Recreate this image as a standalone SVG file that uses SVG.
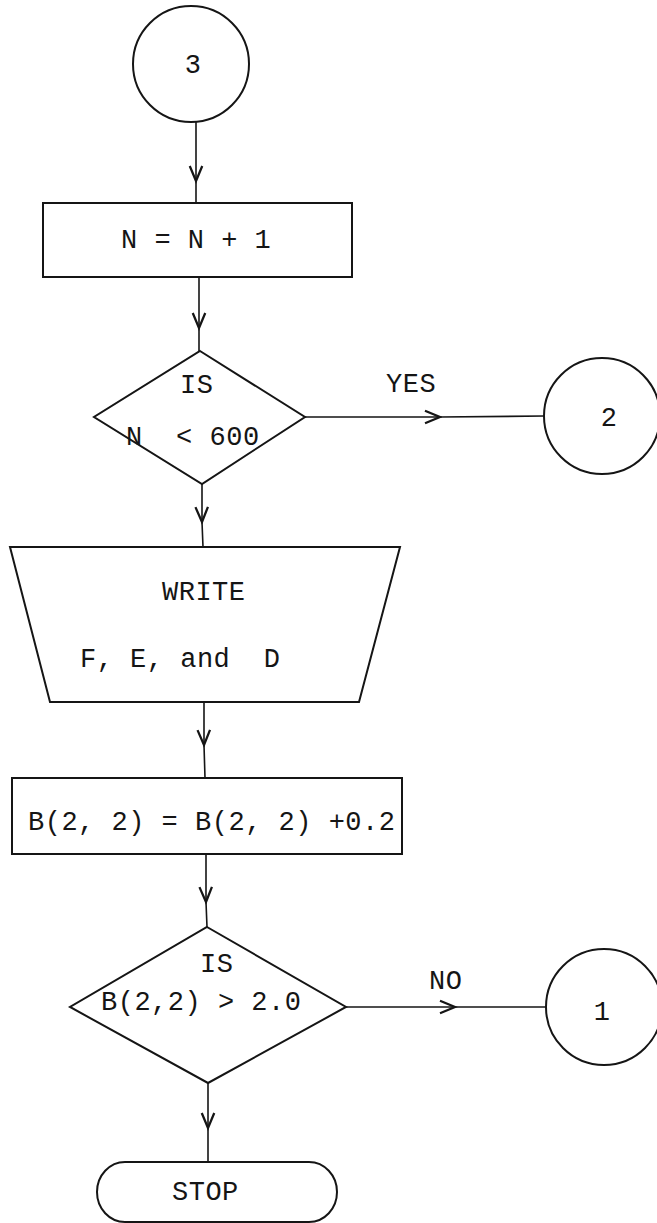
<svg xmlns="http://www.w3.org/2000/svg" width="657" height="1223" viewBox="0 0 657 1223">
<style>
.s{fill:none;stroke:#151515;stroke-width:2;stroke-linejoin:miter}
.c{fill:none;stroke:#151515;stroke-width:1.6;marker-mid:url(#ah)}
.t{font-family:"Liberation Mono","DejaVu Sans Mono",monospace;font-size:27px;letter-spacing:0.5px;fill:#151515;white-space:pre}
</style>
<defs>
<marker id="ah" markerUnits="userSpaceOnUse" markerWidth="20" markerHeight="20" refX="0" refY="0" viewBox="-14 -8 16 16" orient="auto">
<path d="M-12,-5 L0,0 L-12,5" fill="none" stroke="#151515" stroke-width="1.8"/>
</marker>
</defs>
<rect width="657" height="1223" fill="#fff"/>
<g id="connectors">
<polyline class="c" points="196,122 196,181 196,203"/>
<polyline class="c" points="199,277 199,328 199,351"/>
<polyline class="c" points="305,417 440,417 544,416"/>
<polyline class="c" points="202,484 202,522 203,547"/>
<polyline class="c" points="204,702 204,745 205,778"/>
<polyline class="c" points="206,854 206,902 207,927"/>
<polyline class="c" points="346,1007 455,1007 546,1007"/>
<polyline class="c" points="208,1083 208,1128 208,1162"/>
</g>
<g id="c3"><circle class="s" cx="191" cy="64" r="58"/><text class="t" x="193" y="73" text-anchor="middle">3</text></g>
<g id="inc"><rect class="s" x="43" y="203" width="309" height="74"/><text class="t" x="121" y="248">N = N + 1</text></g>
<g id="d1"><polygon class="s" points="200,351 305,417 202,484 94,417"/><text class="t" x="180" y="393">IS</text><text class="t" x="126" y="445" xml:space="preserve">N  &lt; 600</text></g>
<g id="yes"><text class="t" x="386" y="392">YES</text></g>
<g id="c2"><circle class="s" cx="602" cy="416" r="58"/><text class="t" x="609" y="426" text-anchor="middle">2</text></g>
<g id="write"><polygon class="s" points="10,547 400,547 359,702 50,702"/><text class="t" x="162" y="600">WRITE</text><text class="t" x="80" y="667" xml:space="preserve">F, E, and  D</text></g>
<g id="upd"><rect class="s" x="12" y="778" width="390" height="76"/><text class="t" x="28" y="830">B(2, 2) = B(2, 2) +0.2</text></g>
<g id="d2"><polygon class="s" points="207,927 346,1007 208,1083 70,1007"/><text class="t" x="200" y="972">IS</text><text class="t" x="101" y="1010">B(2,2) &gt; 2.0</text></g>
<g id="no"><text class="t" x="429" y="989">NO</text></g>
<g id="c1"><circle class="s" cx="604" cy="1007" r="58"/><text class="t" x="602" y="1020" text-anchor="middle">1</text></g>
<g id="stop"><rect class="s" x="97" y="1162" width="240" height="60" rx="28" ry="30"/><text class="t" x="172" y="1200">STOP</text></g>
</svg>
